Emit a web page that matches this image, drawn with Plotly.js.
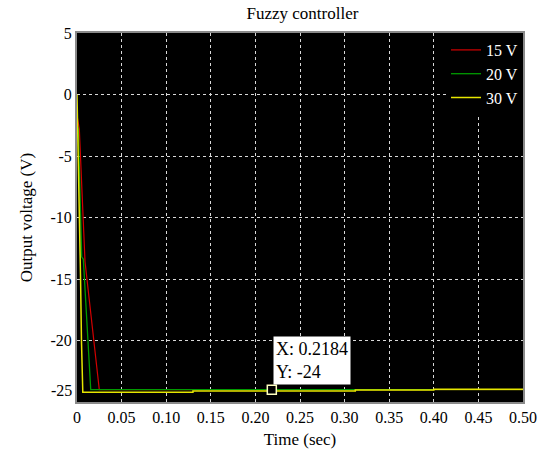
<!DOCTYPE html>
<html>
<head>
<meta charset="utf-8">
<script src="https://cdn.plot.ly/plotly-3.0.1.min.js"></script>
<style>html,body{margin:0;padding:0;background:#fff;}#chart{width:545px;height:454px;}</style>
</head>
<body>
<div id="chart"></div>
<script>
// Data
const t15 = [0, 0.0026, 0.009, 0.025, 0.5];
const v15 = [-1.7, -2.8, -13.6, -24.0, -24.0];
const t20 = [0.0, 0.0015, 0.0053, 0.0071, 0.0154, 0.5];
const v20 = [-2.5, -2.8, -13.2, -13.4, -24.0, -24.0];
const t30 = [0.0, 0.0015, 0.004, 0.005, 0.0065, 0.13, 0.13, 0.312, 0.312, 0.40, 0.40, 0.5];
const v30 = [0.0, -5.0, -15.0, -20.0, -24.2, -24.2, -24.1, -24.1, -24.03, -24.03, -23.97, -23.97];
const seriesNames = ['15 V', '20 V', '30 V'];
const seriesColors = ['#d40000', '#009a00', '#e6e600'];
const xTickVals = [0, 0.05, 0.10, 0.15, 0.20, 0.25, 0.30, 0.35, 0.40, 0.45, 0.50];
const xTickText = ['0', '0.05', '0.10', '0.15', '0.20', '0.25', '0.30', '0.35', '0.40', '0.45', '0.50'];
const yTickVals = [-20, -15, -10, -5, 0, 5];
const yTickText = ['-20', '-15', '-10', '-5', '0', '5'];
const tipX = 0.2184, tipY = -24;

const fam = '"Liberation Serif", "Times New Roman", serif';
const tickFont = {family: fam, size: 16, color: '#000'};
const textFont = {family: fam, size: 17, color: '#000'};

const traces = [
  {x: t15, y: v15, name: seriesNames[0], mode: 'lines', line: {color: seriesColors[0], width: 1.2}},
  {x: t20, y: v20, name: seriesNames[1], mode: 'lines', line: {color: seriesColors[1], width: 1.3}},
  {x: t30, y: v30, name: seriesNames[2], mode: 'lines', line: {color: seriesColors[2], width: 1.5}},
  {x: [tipX], y: [tipY], mode: 'markers', showlegend: false, hoverinfo: 'skip',
   marker: {symbol: 'square', size: 9, color: '#000', line: {color: '#ffffc0', width: 1.5}}}
];

const layout = {
  width: 545, height: 454,
  margin: {l: 77, r: 22, t: 33, b: 52},
  paper_bgcolor: '#fff', plot_bgcolor: '#000',
  font: textFont,
  title: {text: 'Fuzzy controller', x: 0.555, xanchor: 'center', y: 0.985, yanchor: 'top', font: {family: fam, size: 17, color: '#000'}},
  showlegend: true,
  legend: {x: 1, xanchor: 'right', y: 1, yanchor: 'top', bgcolor: '#000', borderwidth: 0,
    font: {family: fam, size: 16, color: '#fff'}, tracegroupgap: 0, itemwidth: 30},
  xaxis: {
    range: [0, 0.5], tickvals: xTickVals, ticktext: xTickText,
    showgrid: true, gridcolor: '#d8d8d8', griddash: '3px,3px', gridwidth: 1,
    zeroline: false, showline: true, linecolor: '#8a8a8a', linewidth: 2, mirror: true,
    ticks: 'inside', ticklen: 0, tickfont: tickFont,
    title: {text: 'Time (sec)', font: textFont, standoff: 8}
  },
  yaxis: {
    range: [-25, 5], tickvals: yTickVals, ticktext: yTickText,
    showgrid: true, gridcolor: '#d8d8d8', griddash: '3px,3px', gridwidth: 1,
    zeroline: false, showline: true, linecolor: '#8a8a8a', linewidth: 2, mirror: true,
    ticks: 'inside', ticklen: 0, tickfont: tickFont,
    title: {text: 'Output voltage (V)', font: textFont, standoff: 14}
  },
  annotations: [
    {xref: 'paper', yref: 'y', x: 0, y: -25, xanchor: 'right', yanchor: 'middle', xshift: -3, yshift: 12,
     text: '-25', showarrow: false, font: tickFont},
    {xref: 'x', yref: 'y', x: tipX, y: tipY, xanchor: 'left', yanchor: 'bottom', xshift: 1, yshift: 5,
     text: 'X: 0.2184<br>Y: -24', align: 'left', showarrow: false, bgcolor: '#fff', borderpad: 2,
     font: {family: fam, size: 18, color: '#000'}}
  ]
};

Plotly.newPlot('chart', traces, layout, {displayModeBar: false, staticPlot: true});
</script>
</body>
</html>
